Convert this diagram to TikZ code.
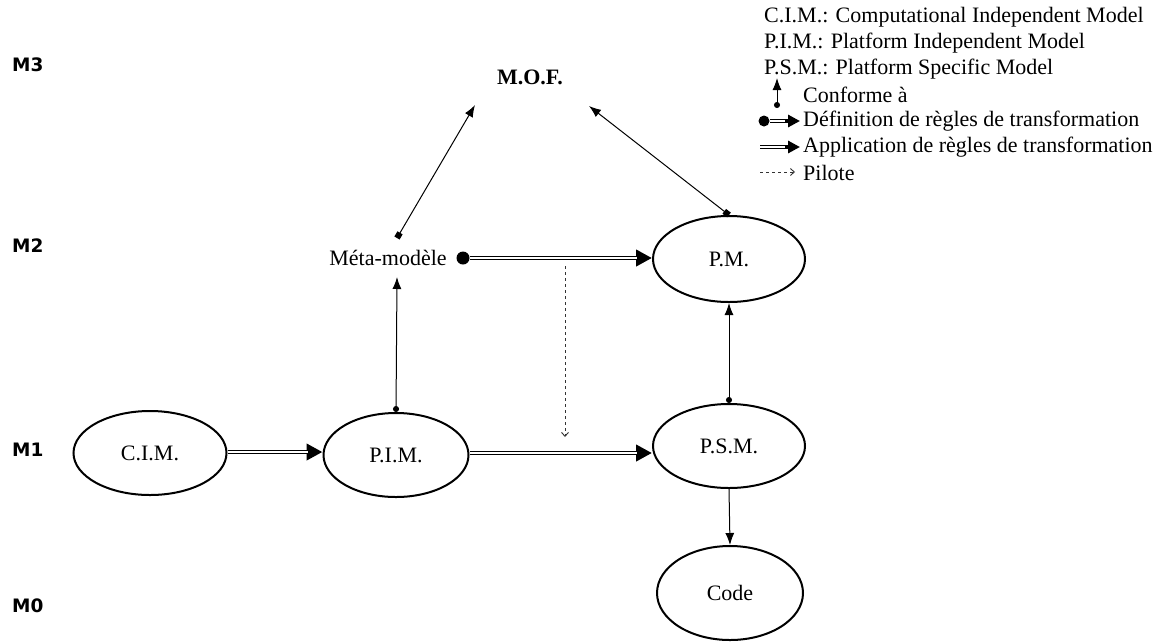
\documentclass[tikz,border=0pt]{standalone}
\usepackage{fontspec}
\setmainfont{Liberation Serif}
\newfontfamily\levelfont{DejaVu Sans}
\usetikzlibrary{shapes.geometric,arrows.meta}
\begin{document}
\begin{tikzpicture}[x=1pt,y=-1pt,
  every node/.style={font=\fontsize{22}{26}\selectfont},
  model/.style={ellipse,draw,line width=2pt,inner sep=0pt,minimum width=150pt,minimum height=84pt},
  level/.style={font=\levelfont\bfseries\fontsize{18.5}{20}\selectfont,anchor=west,inner sep=0pt},
  legend/.style={anchor=west,inner sep=0pt},
  conf/.style={line width=1pt,{Circle[length=6pt]}-{Latex[length=12pt,width=9pt]}},
  confsq/.style={line width=1pt,{Square[length=6pt]}-{Latex[length=12pt,width=9pt]}},
  dbl/.style={line width=4.6pt,-{Triangle[length=16pt,width=16pt]},
    postaction={draw=white,line width=1.9pt,shorten >=15pt,-}},
  pilot/.style={dashed,line width=0.9pt,draw=black!80,-{Straight Barb[length=4pt,width=7pt]}},
  dot/.style={circle,fill,inner sep=0pt,minimum size=13pt}]
\useasboundingbox (0,0) rectangle (1164,641);

% level labels
\node[level] (m3) at (12,65) {M3};
\node[level] (m2) at (12,246) {M2};
\node[level] (m1) at (12,450) {M1};
\node[level] (m0) at (12,606) {M0};

% models
\node[model,minimum width=153pt] (cim) at (150,453) {C.I.M.};
\node[model,minimum width=145pt] (pim) at (396,455) {P.I.M.};
\node[model,minimum width=152pt] (psm) at (729,446) {P.S.M.};
\node[model,minimum width=152pt,minimum height=86pt] (pm) at (729,259) {P.M.};
\node[model,minimum width=146pt,minimum height=94pt] (code) at (730,593) {Code};

\node[font=\bfseries\fontsize{22}{26}\selectfont] (mof) at (530,77) {M.O.F.};
\node (meta) at (388,258) {Méta-modèle};
\node[dot] (defdot) at (463,258) {};

% free ends of the connectors
\coordinate (mofL) at (475,105);
\coordinate (mofR) at (589,106);
\coordinate (metaTop) at (397,238);
\coordinate (metaBot) at (397,277);
\coordinate (pilS) at (565,266);
\coordinate (pilE) at (565,437);

% conformance links
\draw[confsq] (metaTop) -- (mofL);
\draw[confsq] (pm.north) -- (mofR);
\draw[conf] (pim.north) -- (metaBot);
\draw[conf] (psm.north) -- (pm.south);
\draw[line width=1pt,-{Latex[length=12pt,width=9pt]}] (psm.south) -- (code.north);

% transformations
\draw[dbl] (defdot.east) -- (pm.west |- defdot.east);
\draw[dbl] (cim.east |- 0,452) -- (pim.west |- 0,452);
\draw[dbl] (pim.east |- 0,453) -- (psm.west |- 0,453);
\draw[pilot] (pilS) -- (pilE);

% legend
\node[legend] (l1) at (764,17) {C.I.M.: Computational Independent Model};
\node[legend] (l2) at (764,43) {P.I.M.: Platform Independent Model};
\node[legend] (l3) at (764,69) {P.S.M.: Platform Specific Model};
\node[legend] (l4) at (803,95) {Conforme à};
\node[legend] (l5) at (803,121) {Définition de règles de transformation};
\node[legend] (l6) at (803,147) {Application de règles de transformation};
\node[legend] (l7) at (803,173) {Pilote};

\coordinate (c4a) at (777,108);
\coordinate (c4b) at (777,78);
\node[dot,minimum size=11pt] (ldot) at (764,121) {};
\coordinate (c5b) at (800,121);
\coordinate (c6a) at (760,147);
\coordinate (c6b) at (800,147);
\coordinate (c7a) at (760,172);
\coordinate (c7b) at (795,172);

\draw[conf] (c4a) -- (c4b);
\draw[dbl,-{Triangle[length=12pt,width=12pt]},postaction={shorten >=11pt}] (ldot.east) -- (c5b);
\draw[dbl,-{Triangle[length=12pt,width=12pt]},postaction={shorten >=11pt}] (c6a) -- (c6b);
\draw[pilot] (c7a) -- (c7b);
\end{tikzpicture}
\end{document}
